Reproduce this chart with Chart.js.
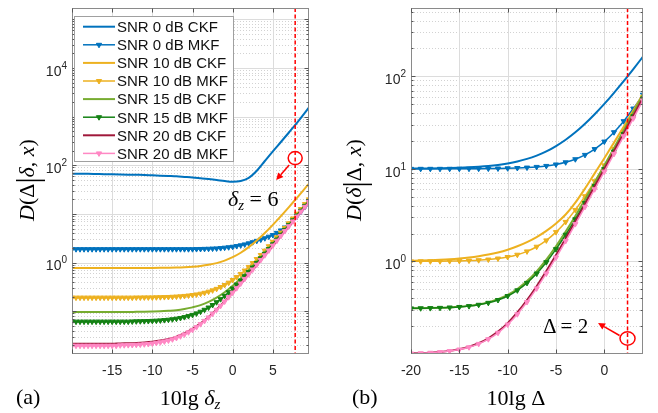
<!DOCTYPE html>
<html><head><meta charset="utf-8">
<script src="https://cdn.jsdelivr.net/npm/chart.js@4.4.1/dist/chart.umd.min.js"></script>
<style>
html,body{margin:0;padding:0;background:#fff;width:658px;height:413px;overflow:hidden;}
#wrap{position:relative;width:658px;height:413px;}
canvas{position:absolute;top:0;}
svg{position:absolute;left:0;top:0;}
.t{position:absolute;font-family:"Liberation Serif","DejaVu Serif",serif;color:#000;white-space:nowrap;line-height:1;font-size:22px;}
.t sub{font-size:0.68em;vertical-align:-0.3em;line-height:0;}
.bar{font-size:1.4em;vertical-align:-0.12em;line-height:0;font-style:normal;}
</style></head><body>
<div id="wrap">
<canvas id="cA" width="330" height="413" style="left:0;width:330px;height:413px"></canvas>
<canvas id="cB" width="328" height="413" style="left:330px;width:328px;height:413px"></canvas>
<svg id="leg" width="658" height="413"></svg>
<div class="t" style="left:27px;top:180px;transform:translate(-50%,-50%) rotate(-90deg);"><i>D</i>(Δ<span class="bar">|</span><i>δ</i>, <i>x</i>)</div>
<div class="t" style="left:354px;top:180px;transform:translate(-50%,-50%) rotate(-90deg);"><i>D</i>(<i>δ</i><span class="bar">|</span>Δ, <i>x</i>)</div>
<div class="t" style="left:190px;top:387px;transform:translateX(-50%);">10lg <i>δ</i><sub><i>z</i></sub></div>
<div class="t" style="left:516px;top:387px;transform:translateX(-50%);">10lg Δ</div>
<div class="t" style="left:16px;top:386px;">(a)</div>
<div class="t" style="left:352px;top:386px;">(b)</div>
<div class="t" style="left:228px;top:188px;"><i>δ</i><sub><i>z</i></sub> = 6</div>
<div class="t" style="left:543px;top:316px;font-size:21px;">Δ = 2</div>
</div>
<script>
// ---------- series names / colours ----------
const seriesNames = ['SNR 0 dB CKF','SNR 0 dB MKF','SNR 10 dB CKF','SNR 10 dB MKF','SNR 15 dB CKF','SNR 15 dB MKF','SNR 20 dB CKF','SNR 20 dB MKF'];
const seriesColors = ['#0072BD','#0072BD','#EDB120','#EDB120','#77AC30','#148214','#A0183A','#FF88C4'];
const isMKF = [false,true,false,true,false,true,false,true];

// ---------- panel (a): x = 10lg delta_z ----------
const xA_ckf = [-20,-19,-18,-17,-16,-15,-14,-13,-12,-11,-10,-9,-8,-7,-6,-5,-4,-3,-2,-1,0,1,2,3,4,5,6,7,8,9,9.5];
const xA_mkf = [-20,-19.5,-19,-18.5,-18,-17.5,-17,-16.5,-16,-15.5,-15,-14.5,-14,-13.5,-13,-12.5,-12,-11.5,-11,-10.5,-10,-9.5,-9,-8.5,-8,-7.5,-7,-6.5,-6,-5.5,-5,-4.5,-4,-3.5,-3,-2.5,-2,-1.5,-1,-0.5,0,0.5,1,1.5,2,2.5,3,3.5,4,4.5,5,5.5,6,6.5,7,7.5,8,8.5,9,9.5];

const a_snr0_ckf = [67,66.8,66.5,66,65.5,65,64.5,64,63.5,63,62,61,60,59,57.5,56,54,52,49.8,47.3,45.8,47.5,55,77,122,193,300,470,740,1200,1550];
const a_snr10_ckf = [0.77,0.77,0.77,0.77,0.77,0.7705,0.771,0.771,0.772,0.773,0.775,0.778,0.783,0.79,0.802,0.821,0.851,0.899,0.974,1.094,1.288,1.59,2.07,2.83,4.04,5.95,8.97,13.77,21.4,33.4,41.9];
const a_snr15_ckf = [0.096,0.096,0.096,0.096,0.096,0.096,0.096,0.096,0.097,0.0975,0.0984,0.0997,0.102,0.105,0.111,0.12,0.133,0.155,0.19,0.245,0.333,0.471,0.691,1.04,1.59,2.46,3.85,6.05,9.52,15,18.9];
const a_snr20_ckf = [0.0214,0.0214,0.0214,0.0214,0.0214,0.0214,0.0218,0.022,0.0223,0.0228,0.0236,0.0249,0.0269,0.0301,0.0352,0.0433,0.0561,0.0764,0.109,0.159,0.242,0.371,0.576,0.9,1.414,2.23,3.52,5.57,8.81,13.95,17.5];

const a_snr0_mkf = [1.88,1.88,1.88,1.88,1.88,1.88,1.88,1.88,1.88,1.88,1.88,1.88,1.88,1.88,1.88,1.88,1.88,1.88,1.88,1.88,1.88,1.88,1.88,1.88,1.88,1.88,1.88,1.88,1.88,1.88,1.88,
  1.89,1.90,1.91,1.92,1.935,1.95,1.98,2.02,2.06,2.11,2.18,2.26,2.36,2.48,2.62,2.79,2.96,3.16,3.4,3.67,4.07,4.57,5.25,6.17,7.33,8.9,11.1,13.8,17.6];
const a_snr10_mkf = [0.19,0.19,0.19,0.19,0.19,0.19,0.19,0.19,0.19,0.19,0.19,0.19,0.19,0.19,0.19,0.19,
  0.191,0.191,0.192,0.192,0.192,0.193,0.194,0.195,0.196,0.198,0.2,0.202,0.206,0.21,0.215,0.221,0.229,0.239,0.252,0.268,0.288,0.314,0.346,0.386,0.438,0.502,0.583,0.685,0.813,0.975,1.18,1.43,1.755,2.16,2.67,3.31,4.12,5.14,6.42,8.04,10.07,12.6,15.9,19.9];
const a_snr15_mkf = [0.061,0.061,0.061,0.061,0.061,0.061,0.061,0.061,0.061,0.061,0.061,0.061,0.061,0.061,0.061,
  0.0615,0.0619,0.0622,0.0625,0.0628,0.0633,0.0639,0.0647,0.0656,0.0668,0.0683,0.0702,0.0726,0.0756,0.0794,0.0841,0.0901,0.0976,0.107,0.119,0.134,0.153,0.177,0.207,0.245,0.292,0.352,0.427,0.522,0.641,0.791,0.981,1.22,1.52,1.9,2.37,2.97,3.72,4.67,5.86,7.36,9.25,11.6,14.6,18.4];
const a_snr20_mkf = [0.0195,0.0195,0.0195,0.0195,0.0195,0.0195,0.0195,0.0195,0.0195,0.0195,0.0195,0.0195,
  0.0199,0.02,0.0201,0.0202,0.0204,0.0206,0.0209,0.0212,0.0217,0.0223,0.023,0.0239,0.025,0.0264,0.0282,0.0305,0.0333,0.0369,0.0414,0.0471,0.0542,0.0632,0.0745,0.0888,0.107,0.129,0.158,0.194,0.24,0.297,0.37,0.46,0.574,0.718,0.898,1.13,1.41,1.77,2.23,2.8,3.52,4.43,5.57,7.0,8.81,11.1,13.95,17.5];

// ---------- panel (b): x = 10lg Delta ----------
const xB = [-20,-19,-18,-17,-16,-15,-14,-13,-12,-11,-10,-9,-8,-7,-6,-5,-4,-3,-2,-1,0,1,2,3,4];
const b_snr0_ckf = [10.05,10.07,10.1,10.14,10.19,10.27,10.38,10.53,10.73,11.02,11.43,12.0,12.8,13.9,15.4,17.6,20.6,24.8,30.7,38.9,50.3,66.3,88.5,119.7,163];
const b_snr0_mkf = [10,10,10,10,10.01,10.02,10.025,10.04,10.06,10.09,10.14,10.21,10.32,10.49,10.75,11.15,11.77,12.7,14.14,16.34,19.7,24.85,32.7,44.8,63.3];
const b_snr10_ckf = [1.017,1.023,1.031,1.042,1.056,1.076,1.102,1.138,1.186,1.251,1.339,1.457,1.617,1.832,2.135,2.567,3.21,4.31,6.13,8.94,13.0,19.2,28.5,42.7,64.1];
const b_snr10_mkf = [1.001,1.002,1.003,1.005,1.008,1.013,1.02,1.031,1.048,1.075,1.116,1.181,1.283,1.441,1.687,2.072,2.67,3.6,5.06,7.35,10.9,16.4,25,38.5,59.5];
const b_snr15_ckf = [0.3115,0.3123,0.3136,0.3155,0.3186,0.3235,0.331,0.3428,0.3612,0.3898,0.434,0.504,0.613,0.782,1.046,1.458,2.1,3.1,4.66,7.11,10.89,16.8,26,40.5,63];
const b_snr15_mkf = [0.311,0.312,0.313,0.315,0.318,0.322,0.329,0.34,0.357,0.383,0.423,0.487,0.586,0.74,0.981,1.357,1.94,2.85,4.28,6.51,9.96,15.4,23.8,36.9,57.5];
const b_snr20_ckf = [0.1014,0.1021,0.1033,0.1052,0.1081,0.1126,0.1196,0.1306,0.1477,0.1744,0.2156,0.281,0.382,0.54,0.786,1.17,1.77,2.7,4.16,6.43,9.97,15.5,24.1,37.5,58.5];
const b_snr20_mkf = [0.1013,0.102,0.1031,0.1048,0.1075,0.1118,0.1183,0.1286,0.1446,0.1695,0.208,0.269,0.364,0.511,0.741,1.1,1.66,2.53,3.89,6.02,9.32,14.5,22.5,35.1,54.7];

// ---------- tick labels ----------
const xTicksA = [-15,-10,-5,0,5];
const xTicksB = [-20,-15,-10,-5,0];
const yExpA = [0,2,4];
const yExpB = [0,1,2];

// ---------- build datasets ----------
function pts(xs, ys){ return xs.map((x,i)=>({x:x, y:ys[i]})); }
function makeSets(list){
  return list.map((d,i)=>({
    label: seriesNames[i],
    data: pts(d[0], d[1]),
    borderColor: seriesColors[i],
    backgroundColor: seriesColors[i],
    borderWidth: isMKF[i] ? 1.5 : 2,
    pointRadius: isMKF[i] ? 3 : 0,
    pointStyle: 'triangle',
    pointRotation: 180,
    pointBorderWidth: 1,
    pointBackgroundColor: seriesColors[i],
    pointBorderColor: seriesColors[i],
    cubicInterpolationMode: 'monotone',
    fill: false,
    order: 7 - i
  }));
}
const setsA = makeSets([
  [xA_ckf,a_snr0_ckf],[xA_mkf,a_snr0_mkf],[xA_ckf,a_snr10_ckf],[xA_mkf,a_snr10_mkf],
  [xA_ckf,a_snr15_ckf],[xA_mkf,a_snr15_mkf],[xA_ckf,a_snr20_ckf],[xA_mkf,a_snr20_mkf]]);
const setsB = makeSets([
  [xB,b_snr0_ckf],[xB,b_snr0_mkf],[xB,b_snr10_ckf],[xB,b_snr10_mkf],
  [xB,b_snr15_ckf],[xB,b_snr15_mkf],[xB,b_snr20_ckf],[xB,b_snr20_mkf]]);

// ---------- axes decoration plugin ----------
const deco = {
  id: 'deco',
  beforeDatasetsDraw(chart, args, o){
    const ctx = chart.ctx, a = chart.chartArea, xs = chart.scales.x, ys = chart.scales.y;
    ctx.save();
    ctx.lineWidth = 1;
    const lo = Math.floor(Math.log10(ys.min)), hi = Math.ceil(Math.log10(ys.max));
    ctx.strokeStyle = '#d2d2d2'; ctx.setLineDash([1,2]);
    for (let e = lo; e <= hi; e++) for (let m = 2; m <= 9; m++){
      const v = m*Math.pow(10,e); if (v <= ys.min || v >= ys.max) continue;
      const p = Math.round(ys.getPixelForValue(v)) + 0.5;
      ctx.beginPath(); ctx.moveTo(a.left,p); ctx.lineTo(a.right,p); ctx.stroke();
    }
    ctx.setLineDash([]); ctx.strokeStyle = '#dcdcdc';
    for (let e = lo; e <= hi; e++){
      const v = Math.pow(10,e); if (v <= ys.min || v >= ys.max) continue;
      const p = Math.round(ys.getPixelForValue(v)) + 0.5;
      ctx.beginPath(); ctx.moveTo(a.left,p); ctx.lineTo(a.right,p); ctx.stroke();
    }
    for (const t of o.xGrid){
      const p = Math.round(xs.getPixelForValue(t)) + 0.5;
      if (p <= a.left+1 || p >= a.right-1) continue;
      ctx.beginPath(); ctx.moveTo(p,a.top); ctx.lineTo(p,a.bottom); ctx.stroke();
    }
    ctx.restore();
  },
  afterDatasetsDraw(chart, args, o){
    const ctx = chart.ctx, a = chart.chartArea, xs = chart.scales.x, ys = chart.scales.y;
    ctx.save();
    // dashed red marker line
    const dx = xs.getPixelForValue(o.dashX);
    ctx.strokeStyle = '#FF0000'; ctx.lineWidth = 1.5; ctx.setLineDash([4,2.5]);
    ctx.beginPath(); ctx.moveTo(dx,a.top); ctx.lineTo(dx,a.bottom); ctx.stroke();
    ctx.setLineDash([]);
    // frame
    ctx.strokeStyle = '#8a8a8a'; ctx.lineWidth = 1;
    ctx.strokeRect(Math.round(a.left)+0.5, Math.round(a.top)+0.5, Math.round(a.right-a.left)-1, Math.round(a.bottom-a.top)-1);
    // ticks
    ctx.strokeStyle = '#555';
    const L = Math.round(a.left)+0.5, R = Math.round(a.right)-0.5, T = Math.round(a.top)+0.5, B = Math.round(a.bottom)-0.5;
    for (const t of o.xGrid){
      const p = Math.round(xs.getPixelForValue(t))+0.5;
      ctx.beginPath(); ctx.moveTo(p,B); ctx.lineTo(p,B-4); ctx.moveTo(p,T); ctx.lineTo(p,T+4); ctx.stroke();
    }
    const lo = Math.floor(Math.log10(ys.min)), hi = Math.ceil(Math.log10(ys.max));
    for (let e = lo; e <= hi; e++) for (let m = 1; m <= 9; m++){
      const v = m*Math.pow(10,e); if (v <= ys.min || v >= ys.max) continue;
      const p = Math.round(ys.getPixelForValue(v))+0.5, len = (m===1)?4:2;
      ctx.beginPath(); ctx.moveTo(L,p); ctx.lineTo(L+len,p); ctx.moveTo(R,p); ctx.lineTo(R-len,p); ctx.stroke();
    }
    // tick labels
    ctx.fillStyle = '#262626'; ctx.textBaseline = 'middle';
    ctx.font = '14px "Liberation Sans", Arial, sans-serif'; ctx.textAlign = 'center';
    for (const t of o.xLabels){ ctx.fillText(String(t), xs.getPixelForValue(t), a.bottom+17); }
    for (const e of o.yExp){
      const p = ys.getPixelForValue(Math.pow(10,e));
      ctx.font = '10px "Liberation Sans", Arial, sans-serif';
      const ew = ctx.measureText(String(e)).width;
      ctx.textAlign = 'right';
      ctx.fillText(String(e), a.left-5, p-2);
      ctx.font = '14px "Liberation Sans", Arial, sans-serif';
      ctx.fillText('10', a.left-5-ew, p+4);
    }
    // circle + arrow annotation
    const m = o.mark;
    const cx = xs.getPixelForValue(o.dashX), cy = ys.getPixelForValue(m.y);
    ctx.strokeStyle = '#FF0000'; ctx.fillStyle = '#FF0000'; ctx.lineWidth = 1.5;
    ctx.beginPath(); ctx.ellipse(cx, cy, m.rx, m.ry, 0, 0, Math.PI*2); ctx.stroke();
    const x0 = cx+m.a0[0], y0 = cy+m.a0[1], x1 = cx+m.a1[0], y1 = cy+m.a1[1];
    const ang = Math.atan2(y1-y0, x1-x0), hl = 7, hw = 3.5;
    const bx = x1 - hl*Math.cos(ang), by = y1 - hl*Math.sin(ang);
    ctx.beginPath(); ctx.moveTo(x0,y0); ctx.lineTo(bx,by); ctx.stroke();
    ctx.beginPath(); ctx.moveTo(x1,y1);
    ctx.lineTo(bx + hw*Math.sin(ang), by - hw*Math.cos(ang));
    ctx.lineTo(bx - hw*Math.sin(ang), by + hw*Math.cos(ang));
    ctx.closePath(); ctx.fill();
    ctx.restore();
  }
};

function makeChart(id, sets, cfg){
  return new Chart(document.getElementById(id), {
    type: 'line',
    data: { datasets: sets },
    plugins: [deco],
    options: {
      responsive: false, animation: false, devicePixelRatio: 1,
      layout: { padding: { left: 0, top: 8, right: cfg.padRight, bottom: 0 } },
      plugins: { legend: { display: false }, tooltip: { enabled: false }, deco: cfg.deco },
      scales: {
        x: { type: 'linear', min: cfg.xmin, max: cfg.xmax,
             grid: { display: false }, border: { display: false }, ticks: { display: false },
             afterFit: s => { s.height = 59; } },
        y: { type: 'logarithmic', min: cfg.ymin, max: cfg.ymax,
             grid: { display: false }, border: { display: false }, ticks: { display: false },
             afterFit: s => { s.width = cfg.yw; } }
      }
    }
  });
}

makeChart('cA', setsA, {
  xmin: -20, xmax: 9.5, ymin: 0.0132, ymax: 1.7e5, yw: 72, padRight: 21,
  deco: { xGrid: [-20,-15,-10,-5,0,5], xLabels: xTicksA, yExp: yExpA, dashX: 7.78,
          mark: { y: 140, rx: 7, ry: 6.5, a0: [-6, 7], a1: [-19, 22] } }
});
makeChart('cB', setsB, {
  xmin: -20, xmax: 4, ymin: 0.1, ymax: 546, yw: 81, padRight: 15,
  deco: { xGrid: [-20,-15,-10,-5,0], xLabels: xTicksB, yExp: yExpB, dashX: 2.4,
          mark: { y: 0.147, rx: 7.5, ry: 6.7, a0: [-8, -3], a1: [-29.5, -15.5] } }
});

// ---------- legend (panel a) ----------
(function(){
  const svg = document.getElementById('leg'), NS = 'http://www.w3.org/2000/svg';
  function el(n, at){ const e = document.createElementNS(NS, n); for (const k in at) e.setAttribute(k, at[k]); svg.appendChild(e); return e; }
  el('rect', { x: 74.5, y: 16.5, width: 159, height: 145, fill: '#fff', stroke: '#a0a0a0', 'stroke-width': 1 });
  seriesNames.forEach((name, i) => {
    const cy = 26.7 + i*18.1;
    el('line', { x1: 83, y1: cy, x2: 115, y2: cy, stroke: seriesColors[i], 'stroke-width': isMKF[i] ? 1.5 : 2 });
    if (isMKF[i]) el('polygon', { points: `${99-2.6},${cy-1.5} ${99+2.6},${cy-1.5} ${99},${cy+3}`, fill: seriesColors[i], stroke: seriesColors[i], 'stroke-width': 1 });
    const t = el('text', { x: 117, y: cy + 5.3, 'font-family': '"Liberation Sans", Arial, sans-serif', 'font-size': 15, fill: '#111' });
    t.textContent = name;
  });
})();
</script>
</body></html>
